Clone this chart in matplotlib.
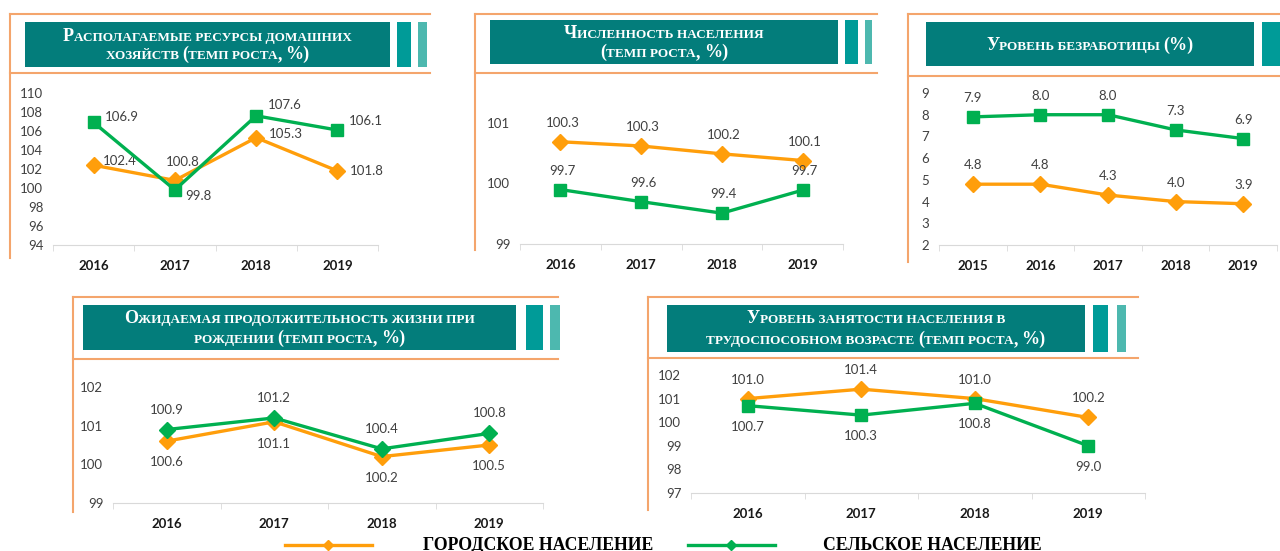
import matplotlib
matplotlib.use("Agg")
import matplotlib.pyplot as plt
import numpy as np
from matplotlib.lines import Line2D
from matplotlib.patches import Rectangle

W, H = 1280, 551

URBAN = "#FF9E0B"
RURAL = "#00B050"
FRAME = "#F4A56C"
BANNER = "#037D7B"
BOX_A = "#009B98"
BOX_B = "#4DB8AF"
SERIF = ["Liberation Serif", "DejaVu Serif"]
SANS = ["Lato", "DejaVu Sans"]

# --- data -------------------------------------------------------------
hh_years = ["2016", "2017", "2018", "2019"]
hh_urban = [102.4, 100.8, 105.3, 101.8]
hh_rural = [106.9, 99.8, 107.6, 106.1]

pop_years = ["2016", "2017", "2018", "2019"]
# points as drawn in the picture; the data labels read differently
pop_urban = [100.69, 100.62, 100.49, 100.38]
pop_rural = [99.90, 99.70, 99.51, 99.89]
pop_urban_lbl = ["100.3", "100.3", "100.2", "100.1"]
pop_rural_lbl = ["99.7", "99.6", "99.4", "99.7"]

unemp_years = ["2015", "2016", "2017", "2018", "2019"]
unemp_urban = [4.8, 4.8, 4.3, 4.0, 3.9]
unemp_rural = [7.9, 8.0, 8.0, 7.3, 6.9]

life_years = ["2016", "2017", "2018", "2019"]
life_urban = [100.6, 101.1, 100.2, 100.5]
life_rural = [100.9, 101.2, 100.4, 100.8]

emp_years = ["2016", "2017", "2018", "2019"]
emp_urban = [101.0, 101.4, 101.0, 100.2]
emp_rural = [100.7, 100.3, 100.8, 99.0]


def fmt(vals):
    return [f"{v:.1f}" for v in vals]


def px(x, y):
    return x / W, 1 - y / H


panels = [
    dict(title=["Располагаемые ресурсы домашних", "хозяйств (темп роста, %)"],
         baselines=[41, 59], axbox=(53, 93, 378, 245), ylim=(94, 110), yticks=range(94, 111, 2),
         years=hh_years, urban=hh_urban, rural=hh_rural,
         urban_lbl=fmt(hh_urban), rural_lbl=fmt(hh_rural),
         urban_off=[(26, -4), (8, -18), (30, -4), (29, 0)],
         rural_off=[(28, -5), (23, 6), (29, -11), (28, -9)],
         rural_marker="s",
         frame=(10, 14, 430, 73, 258), banner=(25, 22, 390, 67),
         boxes=[(397, 411), (418, 427)]),
    dict(title=["Численность населения", "(темп роста, %)"],
         baselines=[38, 57], axbox=(520, 123, 843, 244), ylim=(99, 101), yticks=[99, 100, 101],
         years=pop_years, urban=pop_urban, rural=pop_rural,
         urban_lbl=pop_urban_lbl, rural_lbl=pop_rural_lbl,
         urban_off=[(2, -19)] * 4, rural_off=[(2, -19)] * 4,
         rural_marker="s",
         frame=(475, 14, 877, 73, 250), banner=(490, 20, 838, 64),
         boxes=[(845, 858), (865, 872)]),
    dict(title=["Уровень безработицы (%)"],
         baselines=[50], axbox=(939, 93, 1277, 245), ylim=(2, 9), yticks=range(2, 10),
         years=unemp_years, urban=unemp_urban, rural=unemp_rural,
         urban_lbl=fmt(unemp_urban), rural_lbl=fmt(unemp_rural),
         urban_off=[(0, -19)] * 5, rural_off=[(0, -19)] * 5,
         rural_marker="s",
         frame=(908, 14, 1280, 76, 262), banner=(926, 22, 1254, 66),
         boxes=[(1262, 1280)]),
    dict(title=["Ожидаемая продолжительность жизни при", "рождении (темп роста, %)"],
         baselines=[323, 343], axbox=(113, 387, 543, 503), ylim=(99, 102), yticks=[99, 100, 101, 102],
         years=life_years, urban=life_urban, rural=life_rural,
         urban_lbl=fmt(life_urban), rural_lbl=fmt(life_rural),
         urban_off=[(0, 21), (0, 22), (0, 21), (0, 21)],
         rural_off=[(0, -20)] * 4,
         rural_marker="D",
         frame=(73, 297, 558, 359, 512), banner=(83, 305, 516, 350),
         boxes=[(526, 543), (550, 560)]),
    dict(title=["Уровень занятости населения в", "трудоспособном возрасте (темп роста, %)"],
         baselines=[323, 344], axbox=(691, 375, 1145, 493), ylim=(97, 102), yticks=range(97, 103),
         years=emp_years, urban=emp_urban, rural=emp_rural,
         urban_lbl=fmt(emp_urban), rural_lbl=fmt(emp_rural),
         urban_off=[(0, -19)] * 4, rural_off=[(0, 21)] * 4,
         rural_marker="s",
         frame=(648, 297, 1138, 358, 510), banner=(667, 305, 1085, 352),
         boxes=[(1093, 1108), (1117, 1126)]),
]

fig = plt.figure(figsize=(W / 100, H / 100), dpi=100)
renderer = fig.canvas.get_renderer()


def fig_line(xs, ys, **kw):
    fx = [x / W for x in xs]
    fy = [1 - y / H for y in ys]
    fig.add_artist(Line2D(fx, fy, transform=fig.transFigure, **kw))


def fig_rect(x0, y0, x1, y1, color):
    fig.add_artist(Rectangle(px(x0, y1), (x1 - x0) / W, (y1 - y0) / H,
                             transform=fig.transFigure, color=color, lw=0))


def smallcaps(cx, baseline, line, big=13, small=9.5):
    # lowercase letters become small capitals, everything else keeps full size
    merged = []
    for ch in line:
        size = small if (ch.islower() or ch == " ") else big
        if merged and merged[-1][1] == size:
            merged[-1][0] += ch.upper()
        else:
            merged.append([ch.upper(), size])
    parts = []
    total = 0
    for txt, size in merged:
        t = fig.text(0, 0, txt, fontsize=size, family=SERIF, weight="bold",
                     color="white", ha="left", va="baseline")
        w = t.get_window_extent(renderer).width
        parts.append((t, w))
        total += w
    x = cx - total / 2
    for t, w in parts:
        t.set_position(px(x, baseline))
        x += w


for p in panels:
    # frame lines and banner
    fx0, fy0, fx1, fmid, fbot = p["frame"]
    fig_line([fx0, fx1], [fy0, fy0], color=FRAME, lw=1.5)
    fig_line([fx0, fx1], [fmid, fmid], color=FRAME, lw=1.5)
    fig_line([fx0, fx0], [fy0, fbot], color=FRAME, lw=1.5)
    bx0, by0, bx1, by1 = p["banner"]
    fig_rect(bx0, by0, bx1, by1, BANNER)
    cols = [BOX_A, BOX_B]
    for i, (r0, r1) in enumerate(p["boxes"]):
        fig_rect(r0, by0, r1, by1, cols[i])
    for line, base in zip(p["title"], p["baselines"]):
        smallcaps((bx0 + bx1) / 2, base, line)

    # chart
    l, t, r, b = p["axbox"]
    ax = fig.add_axes([l / W, 1 - b / H, (r - l) / W, (b - t) / H])
    n = len(p["years"])
    x = np.arange(n)
    ax.plot(x, p["urban"], color=URBAN, lw=2.4, marker="D", ms=8, clip_on=False, zorder=3)
    ax.plot(x, p["rural"], color=RURAL, lw=2.4, marker=p["rural_marker"],
            ms=9 if p["rural_marker"] == "s" else 8, clip_on=False, zorder=4)
    for vals, lbls, offs in [(p["urban"], p["urban_lbl"], p["urban_off"]),
                             (p["rural"], p["rural_lbl"], p["rural_off"])]:
        for xi, v, s, (dx, dy) in zip(x, vals, lbls, offs):
            ax.annotate(s, (xi, v), xytext=(dx, -dy), textcoords="offset pixels",
                        ha="center", va="center", fontsize=9.5, family=SANS,
                        color="#404040", annotation_clip=False)
    ax.set_xlim(-0.5, n - 0.5)
    ax.set_ylim(*p["ylim"])
    ax.set_yticks(list(p["yticks"]))
    ax.set_xticks(x)
    ax.set_xticklabels(p["years"], fontsize=9.5, family=SANS, weight="bold", color="#1a1a1a")
    ax.set_xticks(np.arange(n + 1) - 0.5, minor=True)
    ax.tick_params(axis="x", which="major", length=0, pad=11)
    ax.tick_params(axis="x", which="minor", length=4, color="#D9D9D9")
    ax.tick_params(axis="y", length=0, pad=7, labelsize=9.5, labelcolor="#404040")
    for lab in ax.get_yticklabels():
        lab.set_family(SANS)
    for s in ["top", "right", "left"]:
        ax.spines[s].set_visible(False)
    ax.spines["bottom"].set_color("#D9D9D9")
    ax.patch.set_alpha(0)

# legend
fig_line([285, 372], [545, 545], color=URBAN, lw=2.4)
fig_line([328], [545], color=URBAN, marker="D", ms=5, lw=0)
fig.text(*px(423, 545), "ГОРОДСКОЕ НАСЕЛЕНИЕ", family=SERIF, weight="bold",
         fontsize=12.8, ha="left", va="center", color="black")
fig_line([688, 775], [545, 545], color=RURAL, lw=2.4)
fig_line([731], [545], color=RURAL, marker="D", ms=5, lw=0)
fig.text(*px(823, 545), "СЕЛЬСКОЕ НАСЕЛЕНИЕ", family=SERIF, weight="bold",
         fontsize=12.8, ha="left", va="center", color="black")

fig.savefig("out.png", dpi=100)
